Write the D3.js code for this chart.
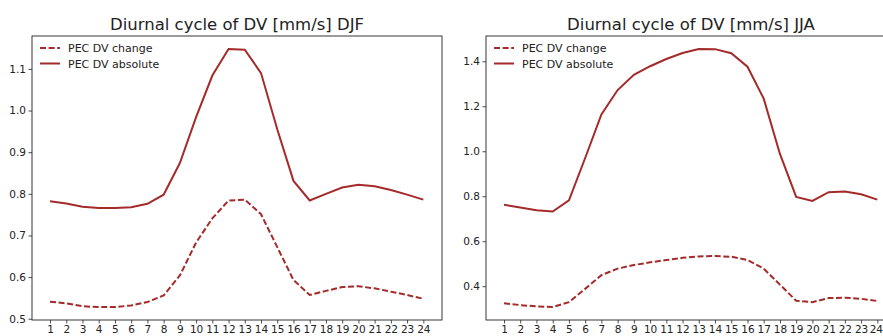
<!DOCTYPE html>
<html>
<head>
<meta charset="utf-8">
<script src="https://cdn.jsdelivr.net/npm/d3@7"></script>
<style>
  body { margin: 0; background: #fff; }
  svg { display: block; }
  text { font-family: "DejaVu Sans", sans-serif; fill: #222; }
</style>
</head>
<body>
<svg id="chart" width="883" height="336"></svg>
<script>
// hours on the x axis
const hours = d3.range(1, 25);

// DJF series
const djfChange = [0.541, 0.537, 0.530, 0.528, 0.528, 0.532, 0.540, 0.556, 0.604, 0.683, 0.741, 0.784,
  0.786, 0.751, 0.672, 0.593, 0.557, 0.567, 0.576, 0.578, 0.573, 0.565, 0.557, 0.548];
const djfAbsolute = [0.782, 0.777, 0.769, 0.766, 0.766, 0.768, 0.776, 0.798, 0.874, 0.984, 1.084, 1.148,
  1.146, 1.090, 0.955, 0.831, 0.784, 0.800, 0.815, 0.822, 0.818, 0.809, 0.798, 0.786];

// JJA series
const jjaChange = [0.324, 0.316, 0.310, 0.307, 0.329, 0.388, 0.449, 0.478, 0.494, 0.506, 0.516, 0.526,
  0.532, 0.534, 0.531, 0.516, 0.478, 0.407, 0.335, 0.329, 0.347, 0.349, 0.344, 0.334];
const jjaAbsolute = [0.762, 0.750, 0.738, 0.732, 0.782, 0.970, 1.164, 1.272, 1.340, 1.378, 1.410, 1.437,
  1.455, 1.454, 1.436, 1.376, 1.234, 0.988, 0.797, 0.779, 0.818, 0.821, 0.809, 0.785];

const djfTicks = [0.5, 0.6, 0.7, 0.8, 0.9, 1.0, 1.1];
const jjaTicks = [0.4, 0.6, 0.8, 1.0, 1.2, 1.4];

const legendLabels = ["PEC DV change", "PEC DV absolute"];
const color = "#a52a2a";

const svg = d3.select("#chart");

function panel(opts) {
  const x = d3.scaleLinear().domain([-0.11, 25.15]).range([opts.left, opts.left + 410]);
  const pad = (d3.max(opts.all) - d3.min(opts.all)) * 0.05;
  const y = d3.scaleLinear()
    .domain([d3.min(opts.all) - pad, d3.max(opts.all) + pad])
    .range([320, 36]);

  const g = svg.append("g");

  // x axis
  const xa = g.append("g")
    .attr("transform", "translate(0,320)")
    .call(d3.axisBottom(x).tickValues(hours).tickFormat(d3.format("d")).tickSizeOuter(0).tickSize(3.5).tickPadding(2.5));
  xa.select(".domain").remove();
  xa.selectAll("line").attr("stroke", "#222").attr("stroke-width", 0.8);
  xa.selectAll("text").style("font-size", "10.5px").attr("fill", "#222");
  // keep the last label inside the page on the cropped right panel
  if (opts.nudgeLast) xa.selectAll("text").filter(d => d === 24).attr("dx", "-1.5");

  // y axis
  const ya = g.append("g")
    .attr("transform", `translate(${opts.left},0)`)
    .call(d3.axisLeft(y).tickValues(opts.ticks).tickFormat(d3.format(".1f")).tickSizeOuter(0).tickSize(3.5).tickPadding(2.5));
  ya.select(".domain").remove();
  ya.selectAll("line").attr("stroke", "#222").attr("stroke-width", 0.8);
  ya.selectAll("text").style("font-size", "10.5px").attr("fill", "#222");

  const line = d3.line().x((d, i) => x(hours[i])).y(d => y(d));

  g.append("path").datum(opts.change)
    .attr("d", line).attr("fill", "none").attr("stroke", color)
    .attr("stroke-width", 2).attr("stroke-dasharray", "6,2.6");
  g.append("path").datum(opts.absolute)
    .attr("d", line).attr("fill", "none").attr("stroke", color)
    .attr("stroke-width", 2);

  // frame
  g.append("rect")
    .attr("x", opts.left).attr("y", 36)
    .attr("width", 410).attr("height", 284)
    .attr("fill", "none").attr("stroke", "#222").attr("stroke-width", 0.9);

  // title
  g.append("text")
    .attr("x", opts.left + 205).attr("y", 30)
    .attr("text-anchor", "middle")
    .style("font-size", "16.5px")
    .text(opts.title);

  // legend
  legendLabels.forEach((lab, i) => {
    const ly = 48 + i * 15.5;
    g.append("line")
      .attr("x1", opts.left + 8).attr("x2", opts.left + 28)
      .attr("y1", ly).attr("y2", ly)
      .attr("stroke", color).attr("stroke-width", 2)
      .attr("stroke-dasharray", i === 0 ? "6,2.6" : null);
    g.append("text")
      .attr("x", opts.left + 36).attr("y", ly + 4)
      .style("font-size", "11px")
      .text(lab);
  });
}

panel({ left: 32, title: "Diurnal cycle of DV [mm/s] DJF", change: djfChange, absolute: djfAbsolute,
  all: djfChange.concat(djfAbsolute), ticks: djfTicks });
panel({ left: 486, title: "Diurnal cycle of DV [mm/s] JJA", change: jjaChange, absolute: jjaAbsolute,
  all: jjaChange.concat(jjaAbsolute), ticks: jjaTicks, nudgeLast: true });
</script>
</body>
</html>
